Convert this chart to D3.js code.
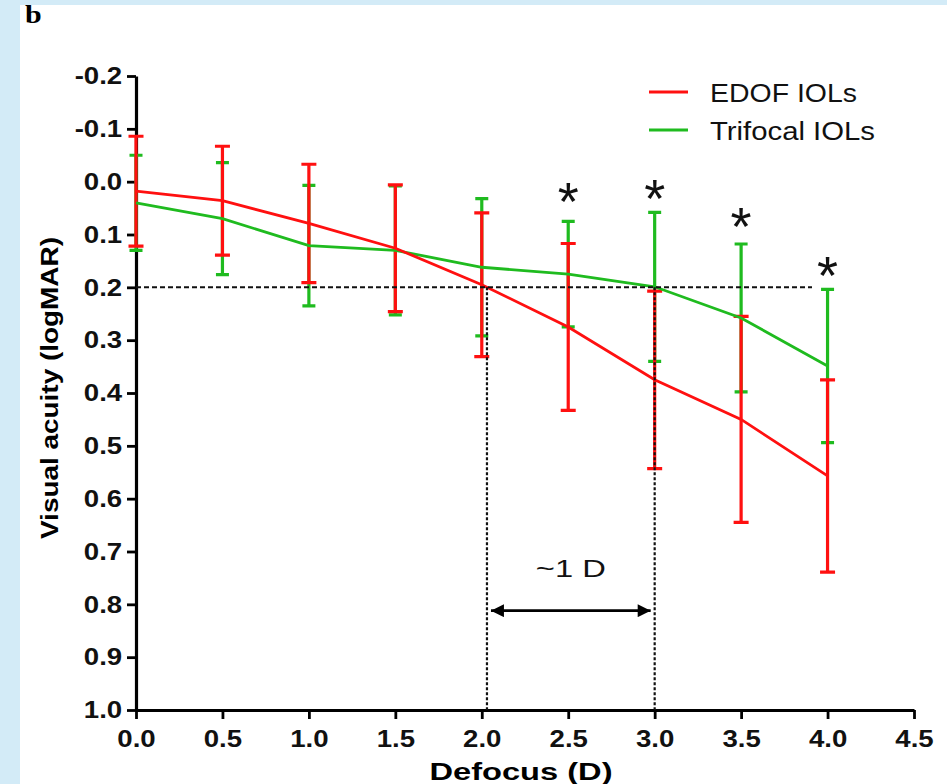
<!DOCTYPE html>
<html>
<head>
<meta charset="utf-8">
<script src="https://cdn.jsdelivr.net/npm/d3@7"></script>
<style>
  html, body { margin: 0; padding: 0; background: #d3ebf7; }
  svg { display: block; }
  text { font-family: "Liberation Sans", Arial, sans-serif; }
</style>
</head>
<body>
<div id="chart"></div>
<script>
// data (logMAR, mean +/- SD)
const defocus = [0, 0.5, 1.0, 1.5, 2.0, 2.5, 3.0, 3.5, 4.0];
const edofMean = [0.018, 0.036, 0.079, 0.126, 0.195, 0.275, 0.375, 0.450, 0.557];
const edofSD = [0.104, 0.103, 0.112, 0.120, 0.136, 0.158, 0.168, 0.195, 0.182];
const trifocalMean = [0.040, 0.070, 0.121, 0.130, 0.162, 0.175, 0.199, 0.258, 0.349];
const trifocalSD = [0.090, 0.106, 0.114, 0.122, 0.130, 0.100, 0.141, 0.140, 0.145];

const starX = [2.5, 3.0, 3.5, 4.0];
const starY = [0.016, 0.010, 0.062, 0.156];

const xTicks = [0, 0.5, 1.0, 1.5, 2.0, 2.5, 3.0, 3.5, 4.0, 4.5];
const xTickLabels = ['0.0', '0.5', '1.0', '1.5', '2.0', '2.5', '3.0', '3.5', '4.0', '4.5'];
const yTicks = [-0.2, -0.1, 0, 0.1, 0.2, 0.3, 0.4, 0.5, 0.6, 0.7, 0.8, 0.9, 1.0];
const yTickLabels = ['-0.2', '-0.1', '0.0', '0.1', '0.2', '0.3', '0.4', '0.5', '0.6', '0.7', '0.8', '0.9', '1.0'];

const series = [
  { name: 'Trifocal IOLs', mean: trifocalMean, sd: trifocalSD, color: '#1fbb1f', cap: 6.5 },
  { name: 'EDOF IOLs', mean: edofMean, sd: edofSD, color: '#ff1010', cap: 7.5 }
];
const legendOrder = ['EDOF IOLs', 'Trifocal IOLs'];

// reference lines: VA 0.2 crossing and ~1 D gap
const refVA = 0.2;
const refX = [2.03, 3.0];
const refHEnd = 3.91;
const arrowY = 0.812;

const W = 947, H = 784;
const stretch = 'scale(1.15,1)';

const svg = d3.select('#chart').append('svg').attr('width', W).attr('height', H);

// panel
svg.append('rect').attr('x', 20).attr('y', 0).attr('width', W - 20).attr('height', H).attr('fill', '#fff');
svg.append('rect').attr('x', 0).attr('y', 0).attr('width', W).attr('height', 5).attr('fill', '#d3ebf7');
svg.append('text')
  .attr('x', 25).attr('y', 23)
  .style('font-family', '"Liberation Serif", "DejaVu Serif", serif')
  .style('font-weight', 'bold').style('font-size', '25px')
  .attr('transform', 'translate(-5,0) scale(1.2,1)')
  .text('b');

const x = d3.scaleLinear().domain([0, 4.5]).range([136, 914]);
const y = d3.scaleLinear().domain([-0.2, 1.0]).range([76, 710]);

// axes
const gx = svg.append('g')
  .attr('transform', `translate(0,${y(1.0)})`)
  .call(d3.axisBottom(x).tickValues(xTicks).tickFormat((d, i) => xTickLabels[i])
    .tickSize(9).tickSizeOuter(0).tickPadding(11));
const gy = svg.append('g')
  .attr('transform', `translate(${x(0)},0)`)
  .call(d3.axisLeft(y).tickValues(yTicks).tickFormat((d, i) => yTickLabels[i])
    .tickSize(9).tickSizeOuter(0).tickPadding(3));

[gx, gy].forEach(g => {
  g.select('.domain').attr('stroke', '#000').attr('stroke-width', 3.2);
  g.selectAll('.tick line').attr('stroke', '#000').attr('stroke-width', 2.8);
  g.selectAll('.tick text')
    .attr('fill', '#111')
    .style('font-size', '24px').style('font-weight', 'bold')
    .attr('transform', stretch);
});

svg.append('text')
  .attr('x', 521).attr('y', 780)
  .attr('text-anchor', 'middle')
  .style('font-size', '23px').style('font-weight', 'bold')
  .attr('textLength', 183).attr('lengthAdjust', 'spacingAndGlyphs')
  .text('Defocus  (D)');

svg.append('text')
  .attr('transform', 'translate(58,388) rotate(-90)')
  .attr('text-anchor', 'middle')
  .style('font-size', '23px').style('font-weight', 'bold')
  .attr('textLength', 302).attr('lengthAdjust', 'spacingAndGlyphs')
  .text('Visual acuity (logMAR)');

// error bars, then mean lines
const line = d3.line().x((d, i) => x(defocus[i])).y(d => y(d));

series.forEach(s => {
  const g = svg.append('g');
  const bars = g.selectAll('g.bar').data(s.mean).enter().append('g').attr('class', 'bar');
  bars.append('path')
    .attr('d', (d, i) => {
      const cx = x(defocus[i]);
      const y0 = y(d - s.sd[i]);
      const y1 = y(d + s.sd[i]);
      let p = `M${cx},${y0} L${cx},${y1} `;
      p += `M${cx - s.cap},${y0} L${cx + s.cap},${y0} `;
      p += `M${cx - s.cap},${y1} L${cx + s.cap},${y1}`;
      return p;
    })
    .attr('fill', 'none')
    .attr('stroke', s.color)
    .attr('stroke-width', 3.2);
});

series.forEach(s => {
  svg.append('path')
    .attr('d', line(s.mean))
    .attr('fill', 'none')
    .attr('stroke', s.color)
    .attr('stroke-width', 2.8);
});

// dashed guides
svg.append('line')
  .attr('x1', x(0)).attr('x2', x(refHEnd))
  .attr('y1', y(refVA)).attr('y2', y(refVA))
  .attr('stroke', '#111').attr('stroke-width', 2).attr('stroke-dasharray', '5,3');
svg.selectAll('line.vref').data(refX).enter().append('line')
  .attr('class', 'vref')
  .attr('x1', d => x(d)).attr('x2', d => x(d))
  .attr('y1', y(refVA)).attr('y2', y(1.0))
  .attr('stroke', '#111').attr('stroke-width', 2.2).attr('stroke-dasharray', '3,2');

// double arrow
const defs = svg.append('defs');
['start', 'end'].forEach(k => {
  defs.append('marker')
    .attr('id', 'arrow-' + k)
    .attr('viewBox', '0 0 10 10')
    .attr('refX', k === 'end' ? 10 : 0).attr('refY', 5)
    .attr('markerUnits', 'userSpaceOnUse')
    .attr('markerWidth', 16).attr('markerHeight', 13)
    .attr('orient', 'auto')
    .append('path')
    .attr('d', k === 'end' ? 'M0,0 L10,5 L0,10 z' : 'M10,0 L0,5 L10,10 z')
    .attr('fill', '#000');
});
svg.append('line')
  .attr('x1', x(refX[0]) + 4).attr('x2', x(refX[1]) - 4)
  .attr('y1', y(arrowY)).attr('y2', y(arrowY))
  .attr('stroke', '#000').attr('stroke-width', 2.8)
  .attr('marker-start', 'url(#arrow-start)')
  .attr('marker-end', 'url(#arrow-end)');
svg.append('text')
  .attr('x', (x(refX[0]) + x(refX[1])) / 2).attr('y', 577)
  .attr('text-anchor', 'middle')
  .style('font-size', '24px')
  .attr('fill', '#111')
  .attr('textLength', 70).attr('lengthAdjust', 'spacingAndGlyphs')
  .text('~1 D');

// significance stars
const starSize = 54;
svg.selectAll('text.star').data(starX).enter().append('text')
  .attr('class', 'star')
  .attr('x', d => x(d))
  .attr('y', (d, i) => y(starY[i]) + starSize * 0.56)
  .attr('text-anchor', 'middle')
  .style('font-size', starSize + 'px')
  .attr('fill', '#111')
  .text('*');

// legend
const legend = svg.append('g');
legendOrder.forEach((name, i) => {
  const s = series.find(d => d.name === name);
  const ly = 92 + i * 38;
  legend.append('line')
    .attr('x1', 649).attr('x2', 688)
    .attr('y1', ly).attr('y2', ly)
    .attr('stroke', s.color).attr('stroke-width', 3.2);
  legend.append('text')
    .attr('x', 710).attr('y', ly + 9.5)
    .style('font-size', '25.5px')
    .attr('fill', '#111')
    .attr('textLength', i === 0 ? 147 : 165).attr('lengthAdjust', 'spacingAndGlyphs')
    .text(name);
});
</script>
</body>
</html>
